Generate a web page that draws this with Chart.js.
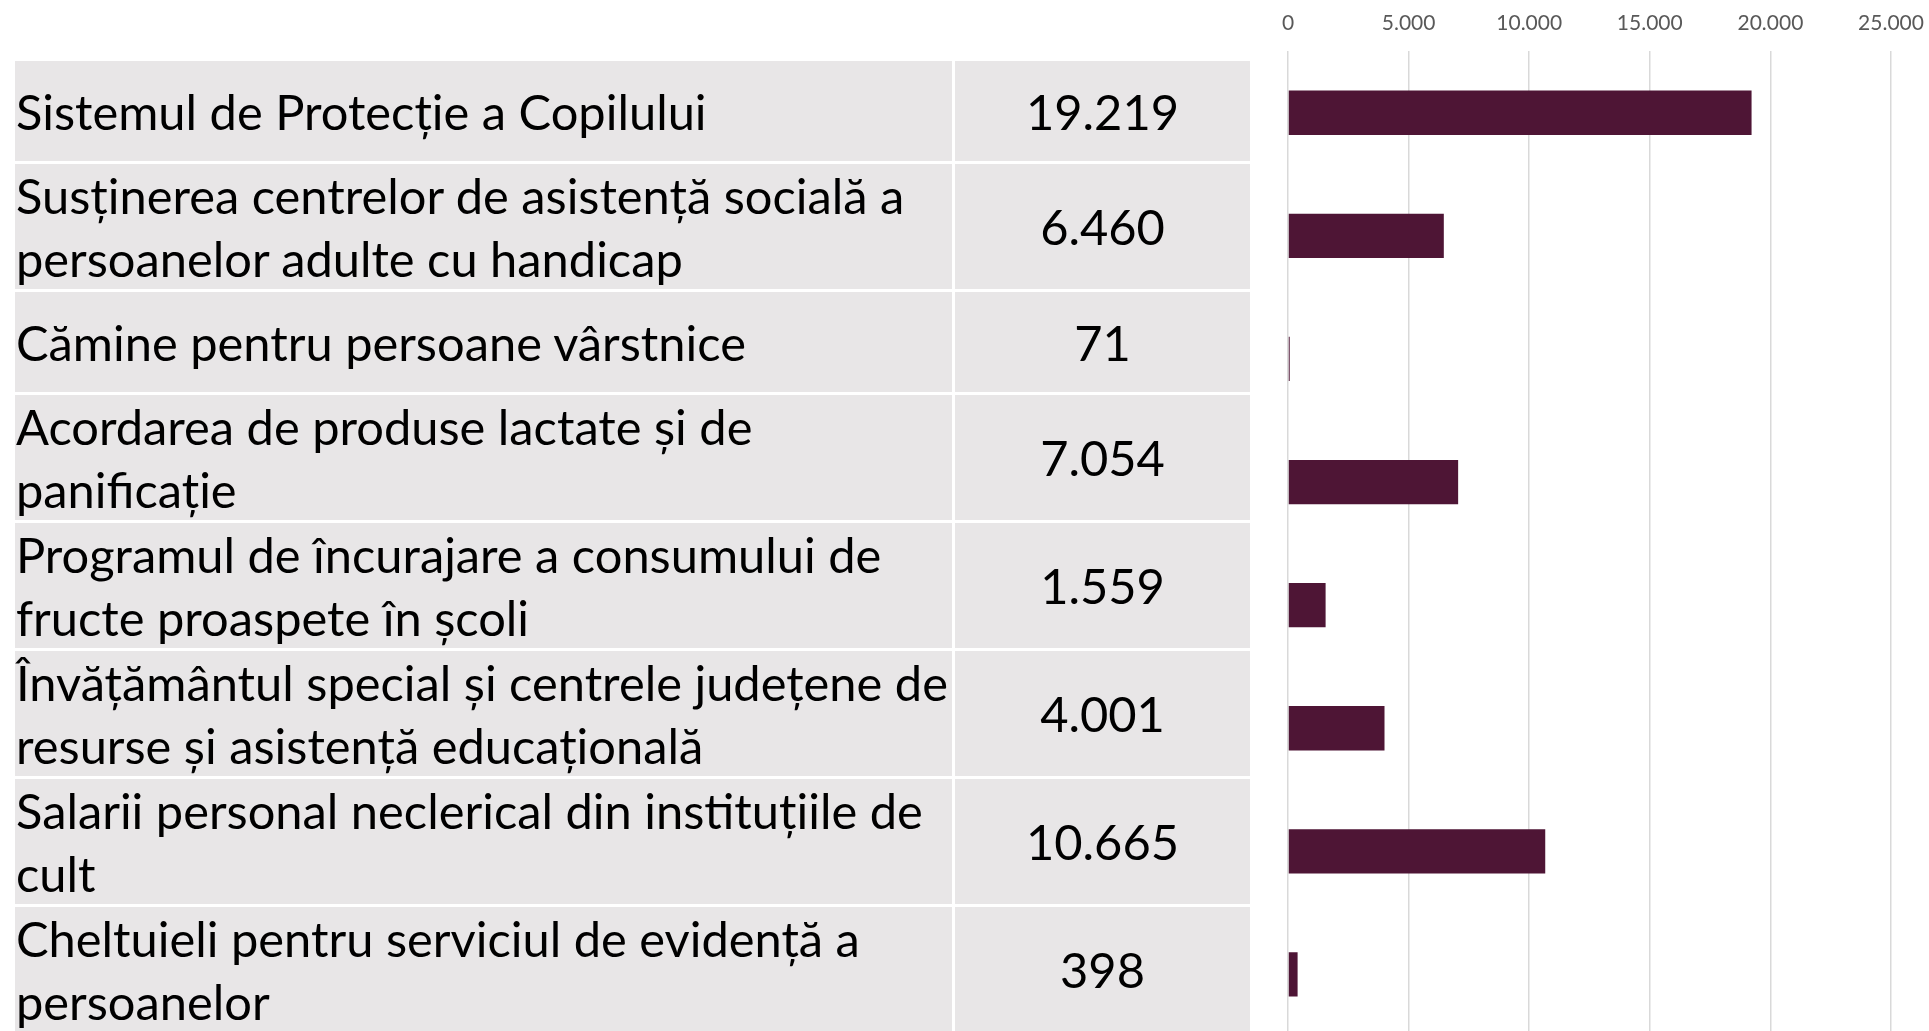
<!DOCTYPE html>
<html lang="ro">
<head>
<meta charset="utf-8">
<title>Cheltuieli</title>
<script src="https://cdn.jsdelivr.net/npm/chart.js@4"></script>
<style>
    html, body {
        margin: 0;
        padding: 0;
        width: 1929px;
        height: 1031px;
        overflow: hidden;
        background: #ffffff;
    }
    #table {
        position: absolute;
        left: 15px;
        top: 61px;
        display: grid;
        grid-template-columns: 937px 295px;
        column-gap: 3px;
        row-gap: 3px;
        font-family: Lato, sans-serif;
        font-size: 48.8px;
        color: #000000;
    }
    .cell {
        background: #e8e6e7;
        display: flex;
        flex-direction: column;
        justify-content: center;
        line-height: 62.5px;
        white-space: nowrap;
        overflow: hidden;
    }
    .name { padding-left: 1px; }
    .val { align-items: center; }
    #chartBox {
        position: absolute;
        left: 1260px;
        top: 0;
        width: 669px;
        height: 1031px;
        overflow: hidden;
    }
    #barChart {
        position: absolute;
        left: 0;
        top: -14px;
    }
</style>
</head>
<body>
<div id="table"></div>
<div id="chartBox"><canvas id="barChart" width="679" height="1050"></canvas></div>
<script>
const categories = [
    ["Sistemul de Protecție a Copilului"],
    ["Susținerea centrelor de asistență socială a", "persoanelor adulte cu handicap"],
    ["Cămine pentru persoane vârstnice"],
    ["Acordarea de produse lactate și de", "panificație"],
    ["Programul de încurajare a consumului de", "fructe proaspete în școli"],
    ["Învățământul special și centrele județene de", "resurse și asistență educațională"],
    ["Salarii personal neclerical din instituțiile de", "cult"],
    ["Cheltuieli pentru serviciul de evidență a", "persoanelor"]
];
const values = [19219, 6460, 71, 7054, 1559, 4001, 10665, 398];
const tickValues = [0, 5000, 10000, 15000, 20000, 25000];

function fmt(n) {
    return String(n).replace(/\B(?=(\d{3})+(?!\d))/g, ".");
}

window.addEventListener("DOMContentLoaded", () => {
    // table on the left
    const table = document.getElementById("table");
    categories.forEach((lines, i) => {
        const h = lines.length === 1 ? "100px" : "125px";
        const name = document.createElement("div");
        name.className = "cell name";
        name.style.height = h;
        lines.forEach(t => {
            const span = document.createElement("div");
            span.textContent = t;
            name.appendChild(span);
        });
        const val = document.createElement("div");
        val.className = "cell val";
        val.style.height = h;
        val.textContent = fmt(values[i]);
        table.appendChild(name);
        table.appendChild(val);
    });

    // bar chart on the right
    const ctx = document.getElementById("barChart");
    new Chart(ctx, {
        type: "bar",
        data: {
            labels: categories.map(l => l.join(" ")),
            datasets: [{
                data: values,
                backgroundColor: "#4e1535",
                borderWidth: 0,
                categoryPercentage: 1,
                barPercentage: 0.36
            }]
        },
        options: {
            indexAxis: "y",
            responsive: false,
            animation: false,
            layout: { padding: { left: 28, right: 48, top: 10, bottom: 0 } },
            plugins: {
                legend: { display: false },
                tooltip: { enabled: false }
            },
            scales: {
                x: {
                    position: "top",
                    min: 0,
                    max: 25000,
                    afterBuildTicks: s => { s.ticks = tickValues.map(v => ({ value: v })); },
                    grid: { color: "#d9d9d9", lineWidth: 1.5, drawTicks: false },
                    border: { display: false },
                    ticks: {
                        padding: 15,
                        color: "#595959",
                        font: { family: "Lato", size: 21 },
                        callback: v => fmt(v)
                    }
                },
                y: {
                    display: false
                }
            }
        }
    });
});
</script>
</body>
</html>
